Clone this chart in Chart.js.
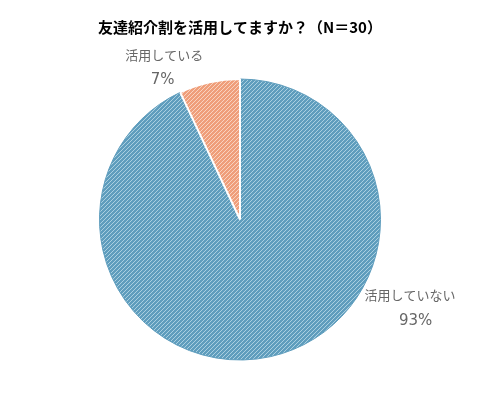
<!DOCTYPE html>
<html><head><meta charset="utf-8">
<script src="https://cdn.jsdelivr.net/npm/chart.js@4"></script>
<style>body{margin:0;background:#fff}#w{width:480px;height:400px}</style>
</head><body><div id="w"><canvas id="c"></canvas></div>
<script>
const categories = ["活用していない", "活用している"];
const values = [93, 7];
const title = "友達紹介割を活用してますか？（N＝30）";

function hatch(bg, line) {
  const p = document.createElement('canvas');
  p.width = 4; p.height = 4;
  const x = p.getContext('2d');
  x.fillStyle = bg; x.fillRect(0, 0, 4, 4);
  x.strokeStyle = line; x.lineWidth = 1;
  x.beginPath();
  x.moveTo(0, 4); x.lineTo(4, 0);
  x.moveTo(-1, 1); x.lineTo(1, -1);
  x.moveTo(3, 5); x.lineTo(5, 3);
  x.stroke();
  return x.createPattern(p, 'repeat');
}
const ctx0 = document.getElementById('c').getContext('2d');
// label offsets relative to radius (category line, percent line)
const labelOffsets = [[[1.21, 0.54], [1.25, 0.72]], [[-0.54, -1.17], [-0.55, -0.99]]];
const labelPlugin = {
  id: 'outLabels',
  afterDraw(chart) {
    const c = chart.ctx;
    const meta = chart.getDatasetMeta(0);
    c.save();
    c.fillStyle = '#666';
    c.textAlign = 'center';
    c.textBaseline = 'middle';
    meta.data.forEach((arc, i) => {
      const p = arc.getProps(['x','y','outerRadius'], true);
      const r = p.outerRadius;
      const [a, b] = labelOffsets[i];
      c.font = '13px "Noto Sans CJK JP", sans-serif';
      c.fillText(categories[i], p.x + a[0]*r, p.y + a[1]*r);
      c.font = '15px "DejaVu Sans", sans-serif';
      c.fillText(values[i] + '%', p.x + b[0]*r, p.y + b[1]*r);
    });
    c.restore();
  }
};
new Chart(ctx0, {
  type: 'pie',
  data: { labels: categories, datasets: [{
    data: values,
    backgroundColor: [hatch('#5f9dbd', '#a9cfe0'), hatch('#ef9e7a', '#f9d3c0')],
    borderColor: ['#5f9dbd', '#fff'],
    borderWidth: [1, 2]
  }]},
  options: {
    responsive: true, maintainAspectRatio: false, animation: false,
    layout: { padding: { top: 0, bottom: 39, left: 60, right: 60 } },
    plugins: {
      legend: { display: false },
      tooltip: { enabled: false },
      title: { display: true, text: title, color: '#000',
        font: { size: 15, weight: 'bold', family: '"Noto Sans CJK JP", sans-serif' },
        padding: { top: 18, bottom: 42 } }
    }
  },
  plugins: [labelPlugin]
});
</script></body></html>
